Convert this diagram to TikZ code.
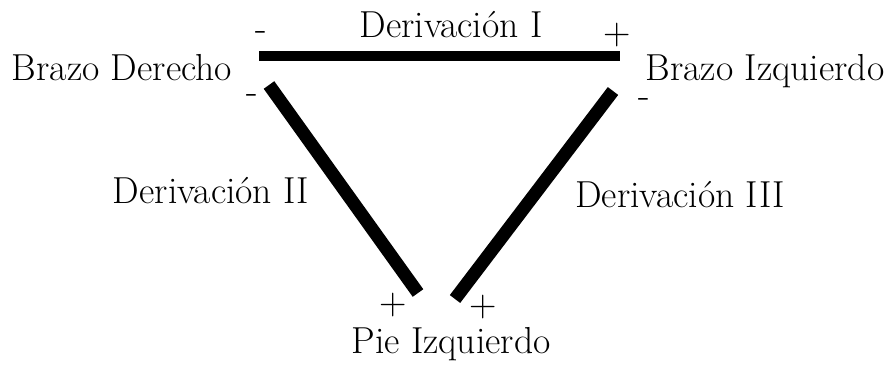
\documentclass[tikz,border=0pt]{standalone}
\usepackage{fontspec}
\usetikzlibrary{positioning}

\begin{document}
\begin{tikzpicture}[x=0.5pt,y=-0.5pt,
  lab/.style={font=\fontsize{18.8}{22}\selectfont,anchor=base,inner sep=0pt},
  sgn/.style={font=\fontsize{19}{22}\selectfont,anchor=base,inner sep=0pt},
  leadI/.style={line width=5pt},
  lead/.style={line width=6.5pt}]
\useasboundingbox[fill=white] (0,0) rectangle (893,364);
% electrodes and leads
\node[lab] (bd) at (122,80) {Brazo Derecho};
\node[lab] (bi) at (765,80) {Brazo Izquierdo};
\node[lab] (pi) at (451,353) {Pie Izquierdo};
\node[lab] (d1) at (451,37) {Derivación I};
\node[lab] (d2) at (211,203) {Derivación II};
\node[lab] (d3) at (680,207) {Derivación III};
% polarity
\node[sgn] (m1) at (261,40) {-};
\node[sgn] (p1) at (617,44) {+};
\node[sgn] (m2) at (252,103) {-};
\node[sgn] (p2) at (393,314) {+};
\node[sgn] (m3) at (644,107) {-};
\node[sgn] (p3) at (483,316) {+};
% lead ends
\coordinate (a1) at (259,56);
\coordinate (b1) at (620,56);
\coordinate (a2) at (269,85);
\coordinate (b2) at (418,293);
\coordinate (a3) at (613,91);
\coordinate (b3) at (455,299);
\draw[leadI] (a1)--(b1);
\draw[lead] (a2)--(b2);
\draw[lead] (a3)--(b3);
\end{tikzpicture}
\end{document}
